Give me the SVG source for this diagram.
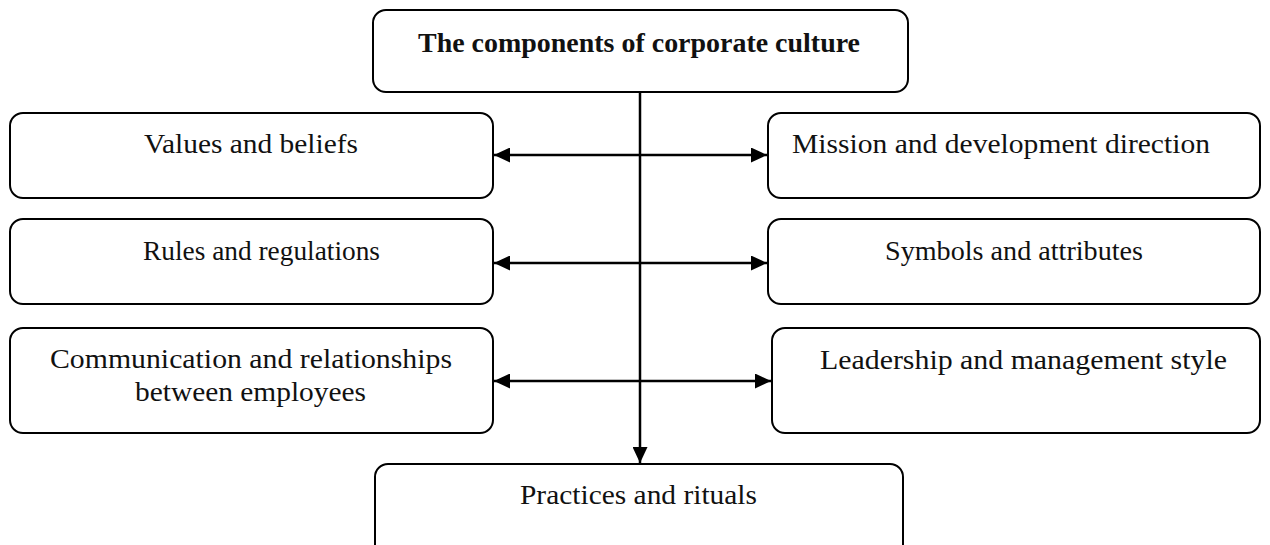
<svg xmlns="http://www.w3.org/2000/svg" width="1270" height="545" viewBox="0 0 1270 545">
<style>
.box{fill:#fff;stroke:#000;stroke-width:2}
.t{font-family:"Liberation Serif","Times New Roman",serif;font-size:28px;fill:#111}
.b{font-weight:bold}
.c{stroke:#000;stroke-width:2.5;fill:none}
</style>
<defs>
<marker id="ah" markerUnits="userSpaceOnUse" markerWidth="17" markerHeight="15" refX="16" refY="7.5" orient="auto-start-reverse">
<path d="M0,0 L16,7.5 L0,15 Z" fill="#000"/>
</marker>
</defs>
<rect width="1270" height="545" fill="#fff"/>
<g id="connectors">
<path class="c" d="M640,92 V463" marker-end="url(#ah)"/>
<path class="c" d="M494,155 H767" marker-start="url(#ah)" marker-end="url(#ah)"/>
<path class="c" d="M494,263 H767" marker-start="url(#ah)" marker-end="url(#ah)"/>
<path class="c" d="M494,381 H771" marker-start="url(#ah)" marker-end="url(#ah)"/>
</g>
<g id="top">
<rect class="box" x="373" y="10" width="535" height="82" rx="13"/>
<text class="t b" x="418" y="52" textLength="442" lengthAdjust="spacingAndGlyphs">The components of corporate culture</text>
</g>
<g id="values">
<rect class="box" x="10" y="113" width="483" height="85" rx="13"/>
<text class="t" x="144" y="153" textLength="214" lengthAdjust="spacingAndGlyphs">Values and beliefs</text>
</g>
<g id="mission">
<rect class="box" x="768" y="113" width="492" height="85" rx="13"/>
<text class="t" x="792" y="153" textLength="418" lengthAdjust="spacingAndGlyphs">Mission and development direction</text>
</g>
<g id="rules">
<rect class="box" x="10" y="219" width="483" height="85" rx="13"/>
<text class="t" x="143" y="260" textLength="237" lengthAdjust="spacingAndGlyphs">Rules and regulations</text>
</g>
<g id="symbols">
<rect class="box" x="768" y="219" width="492" height="85" rx="13"/>
<text class="t" x="885" y="260" textLength="258" lengthAdjust="spacingAndGlyphs">Symbols and attributes</text>
</g>
<g id="communication">
<rect class="box" x="10" y="328" width="483" height="105" rx="13"/>
<text class="t" x="50" y="368" textLength="402" lengthAdjust="spacingAndGlyphs">Communication and relationships</text>
<text class="t" x="135" y="401" textLength="231" lengthAdjust="spacingAndGlyphs">between employees</text>
</g>
<g id="leadership">
<rect class="box" x="772" y="328" width="488" height="105" rx="13"/>
<text class="t" x="820" y="369" textLength="407" lengthAdjust="spacingAndGlyphs">Leadership and management style</text>
</g>
<g id="practices">
<rect class="box" x="375" y="464" width="528" height="100" rx="13"/>
<text class="t" x="520" y="504" textLength="237" lengthAdjust="spacingAndGlyphs">Practices and rituals</text>
</g>
</svg>
